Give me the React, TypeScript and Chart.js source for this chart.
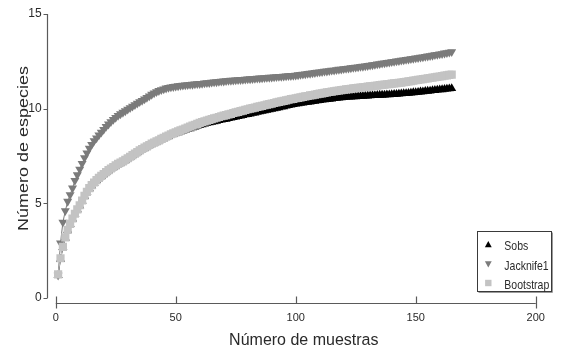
import React, { useEffect, useRef } from 'react';
import { Chart, registerables } from 'chart.js';

Chart.register(...registerables);

// ---------- data ----------
const SAMPLES = Array.from({ length: 165 }, (_, i) => i + 1);

const SOBS = [
  1.2, 2.05, 2.67, 3.17, 3.58, 3.9, 4.18, 4.43, 4.66, 4.88,
  5.13, 5.38, 5.58, 5.78, 5.94, 6.08, 6.21, 6.33, 6.43, 6.53,
  6.63, 6.73, 6.82, 6.9, 6.98, 7.06, 7.13, 7.2, 7.28, 7.36,
  7.44, 7.53, 7.61, 7.69, 7.78, 7.85, 7.92, 7.99, 8.06, 8.13,
  8.19, 8.24, 8.3, 8.36, 8.42, 8.48, 8.53, 8.6, 8.64, 8.69,
  8.73, 8.78, 8.82, 8.87, 8.91, 8.95, 9.0, 9.04, 9.09, 9.13,
  9.16, 9.19, 9.23, 9.26, 9.29, 9.32, 9.34, 9.38, 9.41, 9.43,
  9.45, 9.49, 9.51, 9.54, 9.57, 9.59, 9.62, 9.64, 9.68, 9.7,
  9.73, 9.76, 9.78, 9.81, 9.84, 9.87, 9.89, 9.92, 9.95, 9.98,
  10.0, 10.03, 10.06, 10.09, 10.11, 10.14, 10.17, 10.2, 10.22, 10.25,
  10.27, 10.29, 10.31, 10.33, 10.35, 10.36, 10.38, 10.4, 10.42, 10.44,
  10.46, 10.47, 10.49, 10.5, 10.52, 10.54, 10.55, 10.57, 10.58, 10.6,
  10.61, 10.62, 10.62, 10.63, 10.64, 10.65, 10.66, 10.66, 10.67, 10.68,
  10.69, 10.7, 10.7, 10.71, 10.72, 10.72, 10.73, 10.74, 10.74, 10.75,
  10.76, 10.77, 10.78, 10.79, 10.8, 10.81, 10.82, 10.83, 10.85, 10.86,
  10.87, 10.89, 10.9, 10.92, 10.93, 10.94, 10.96, 10.97, 10.99, 11.0,
  11.01, 11.03, 11.04, 11.06, 11.07,
];

const JACKNIFE1 = [
  1.2, 2.9, 4.0, 4.6, 5.1, 5.45, 5.8, 6.2, 6.5, 6.8,
  7.1, 7.4, 7.65, 7.9, 8.1, 8.3, 8.45, 8.6, 8.75, 8.9,
  9.05, 9.18, 9.3, 9.42, 9.53, 9.63, 9.72, 9.8, 9.88, 9.96,
  10.04, 10.12, 10.2, 10.28, 10.36, 10.43, 10.51, 10.59, 10.67, 10.75,
  10.82, 10.89, 10.95, 11.0, 11.04, 11.08, 11.11, 11.14, 11.16, 11.18,
  11.2, 11.22, 11.23, 11.25, 11.26, 11.27, 11.28, 11.3, 11.31, 11.32,
  11.33, 11.35, 11.36, 11.37, 11.39, 11.4, 11.41, 11.43, 11.44, 11.45,
  11.47, 11.48, 11.49, 11.5, 11.51, 11.52, 11.53, 11.54, 11.55, 11.56,
  11.57, 11.58, 11.59, 11.6, 11.61, 11.62, 11.63, 11.64, 11.65, 11.66,
  11.67, 11.68, 11.69, 11.7, 11.71, 11.72, 11.73, 11.74, 11.75, 11.76,
  11.78, 11.8, 11.81, 11.83, 11.85, 11.86, 11.88, 11.9, 11.92, 11.93,
  11.95, 11.97, 11.98, 12.0, 12.02, 12.03, 12.05, 12.07, 12.08, 12.1,
  12.12, 12.13, 12.15, 12.17, 12.18, 12.2, 12.22, 12.23, 12.25, 12.27,
  12.29, 12.31, 12.33, 12.35, 12.37, 12.39, 12.41, 12.43, 12.45, 12.47,
  12.49, 12.51, 12.53, 12.55, 12.57, 12.59, 12.61, 12.63, 12.65, 12.67,
  12.69, 12.71, 12.73, 12.75, 12.77, 12.79, 12.81, 12.84, 12.86, 12.88,
  12.9, 12.93, 12.95, 12.98, 13.0,
];

const BOOTSTRAP = [
  1.25, 2.1, 2.7, 3.2, 3.6, 3.92, 4.2, 4.45, 4.68, 4.9,
  5.15, 5.4, 5.6, 5.8, 5.96, 6.1, 6.23, 6.35, 6.45, 6.55,
  6.65, 6.75, 6.84, 6.92, 7.0, 7.08, 7.15, 7.22, 7.3, 7.38,
  7.46, 7.55, 7.63, 7.71, 7.8, 7.87, 7.94, 8.01, 8.08, 8.15,
  8.21, 8.27, 8.33, 8.4, 8.46, 8.52, 8.58, 8.65, 8.7, 8.75,
  8.8, 8.85, 8.9, 8.95, 9.0, 9.05, 9.1, 9.15, 9.2, 9.25,
  9.29, 9.33, 9.37, 9.41, 9.45, 9.49, 9.52, 9.56, 9.6, 9.63,
  9.66, 9.7, 9.73, 9.77, 9.8, 9.83, 9.87, 9.9, 9.94, 9.97,
  10.0, 10.03, 10.06, 10.09, 10.12, 10.15, 10.18, 10.21, 10.24, 10.27,
  10.3, 10.33, 10.36, 10.38, 10.41, 10.44, 10.47, 10.5, 10.52, 10.55,
  10.57, 10.6, 10.62, 10.65, 10.67, 10.7, 10.72, 10.74, 10.77, 10.79,
  10.81, 10.83, 10.86, 10.88, 10.9, 10.92, 10.94, 10.96, 10.98, 11.0,
  11.02, 11.03, 11.05, 11.07, 11.08, 11.1, 11.11, 11.13, 11.14, 11.16,
  11.18, 11.19, 11.21, 11.22, 11.24, 11.26, 11.27, 11.29, 11.3, 11.32,
  11.34, 11.35, 11.37, 11.38, 11.4, 11.42, 11.44, 11.46, 11.48, 11.5,
  11.52, 11.54, 11.56, 11.58, 11.6, 11.62, 11.64, 11.66, 11.68, 11.7,
  11.72, 11.74, 11.76, 11.78, 11.8,
];

const SERIES_LABELS = ['Sobs', 'Jacknife1', 'Bootstrap'];
const X_TICKS = [0, 50, 100, 150, 200];
const Y_TICKS = [0, 5, 10, 15];
const X_TITLE = 'Número de muestras';
const Y_TITLE = 'Número de especies';

// ---------- styles ----------
const FONT = "'Liberation Sans', Arial, Helvetica, sans-serif";
const NARROW = "'Liberation Sans Narrow', 'Liberation Sans', Arial, sans-serif";
const AXIS_COLOR = '#5a5a5a';
const TEXT_COLOR = '#2a2a2a';
const COLORS = ['#000000', '#7b7b7b', '#c3c3c3'];

function drawMarker(ctx: CanvasRenderingContext2D, style: string, rot: number, x: number, y: number, r: number, color: string) {
  ctx.save();
  ctx.fillStyle = color;
  ctx.translate(x, y);
  ctx.rotate((rot * Math.PI) / 180);
  ctx.beginPath();
  if (style === 'rect') {
    ctx.rect(-r, -r, 2 * r, 2 * r);
  } else {
    ctx.moveTo(0, -r);
    ctx.lineTo(r * 0.95, r * 0.75);
    ctx.lineTo(-r * 0.95, r * 0.75);
    ctx.closePath();
  }
  ctx.fill();
  ctx.restore();
}

const decorPlugin = {
  id: 'decor',
  beforeDatasetsDraw(chart: any) {
    const { ctx, chartArea, scales } = chart;
    const xs = scales.x;
    const ys = scales.y;
    ctx.save();
    ctx.strokeStyle = AXIS_COLOR;
    ctx.lineWidth = 1.2;
    ctx.beginPath();
    // y axis
    const ax = Math.round(chartArea.left) + 0.5;
    ctx.moveTo(ax, ys.getPixelForValue(Y_TICKS[Y_TICKS.length - 1]));
    ctx.lineTo(ax, ys.getPixelForValue(Y_TICKS[0]));
    Y_TICKS.forEach((v) => {
      const py = Math.round(ys.getPixelForValue(v)) + 0.5;
      ctx.moveTo(ax - 4, py);
      ctx.lineTo(ax, py);
    });
    // x axis
    const ay = Math.round(chartArea.bottom) + 0.5;
    const last = X_TICKS.length - 1;
    ctx.moveTo(xs.getPixelForValue(X_TICKS[0]), ay);
    ctx.lineTo(xs.getPixelForValue(X_TICKS[last]), ay);
    X_TICKS.forEach((v, i) => {
      const px = Math.round(xs.getPixelForValue(v)) + 0.5;
      const end = i === 0 || i === last;
      ctx.moveTo(px, ay - 7);
      ctx.lineTo(px, end ? ay + 5 : ay);
    });
    ctx.stroke();
    ctx.restore();
  },
  afterDraw(chart: any) {
    const { ctx } = chart;
    ctx.save();
    ctx.fillStyle = TEXT_COLOR;

    // x title
    ctx.save();
    ctx.font = `16px ${FONT}`;
    ctx.textAlign = 'center';
    ctx.textBaseline = 'alphabetic';
    ctx.translate(303.8, 345);
    ctx.scale(1, 1.07);
    ctx.fillText(X_TITLE, 0, 0);
    ctx.restore();

    // y title
    ctx.save();
    ctx.font = `14px ${FONT}`;
    ctx.textAlign = 'center';
    ctx.textBaseline = 'alphabetic';
    ctx.translate(28.3, 148.5);
    ctx.rotate(-Math.PI / 2);
    ctx.scale(1.285, 1);
    ctx.fillText(Y_TITLE, 0, 0);
    ctx.restore();

    // legend box
    const bx = 477.5, by = 231.5, bw = 74, bh = 60;
    ctx.fillStyle = '#ffffff';
    ctx.fillRect(bx, by, bw, bh);
    ctx.strokeStyle = '#3a3a3a';
    ctx.lineWidth = 1;
    ctx.strokeRect(bx, by, bw, bh);
    ctx.beginPath();
    ctx.moveTo(bx + bw + 1, by + 1);
    ctx.lineTo(bx + bw + 1, by + bh + 1);
    ctx.lineTo(bx + 1, by + bh + 1);
    ctx.strokeStyle = '#9a9a9a';
    ctx.stroke();

    const baselines = [250, 269.5, 288.5];
    chart.data.datasets.forEach((ds: any, i: number) => {
      const cy = baselines[i] - 5.5;
      drawMarker(ctx, ds.pointStyle, ds.pointRotation || 0, 488.3, cy, ds.pointStyle === 'rect' ? 3.2 : 3.6, ds.pointBackgroundColor);
      ctx.save();
      ctx.fillStyle = TEXT_COLOR;
      ctx.font = `10.5px ${FONT}`;
      ctx.textAlign = 'left';
      ctx.textBaseline = 'alphabetic';
      ctx.translate(504.3, baselines[i]);
      ctx.scale(1, 1.3);
      ctx.fillText(ds.label, 0, 0);
      ctx.restore();
    });
    ctx.restore();
  },
};

export default function App() {
  const canvasRef = useRef<HTMLCanvasElement | null>(null);

  useEffect(() => {
    if (!canvasRef.current) return;
    const series = [SOBS, JACKNIFE1, BOOTSTRAP];
    const styles = [
      { pointStyle: 'triangle', rotation: 0, radius: 5.2, order: 3 },
      { pointStyle: 'triangle', rotation: 180, radius: 5.2, order: 2 },
      { pointStyle: 'rect', rotation: 0, radius: 5.8, order: 1 },
    ];
    const datasets = series.map((vals, i) => ({
      label: SERIES_LABELS[i],
      data: SAMPLES.map((x, j) => ({ x, y: vals[j] })),
      showLine: true,
      borderColor: COLORS[i],
      borderWidth: 1,
      backgroundColor: COLORS[i],
      pointBackgroundColor: COLORS[i],
      pointBorderColor: COLORS[i],
      pointBorderWidth: 0,
      pointStyle: styles[i].pointStyle,
      pointRotation: styles[i].rotation,
      pointRadius: styles[i].radius,
      order: styles[i].order,
    }));

    const chart = new Chart(canvasRef.current, {
      type: 'scatter',
      data: { datasets },
      options: {
        responsive: false,
        animation: false,
        devicePixelRatio: 1,
        layout: { padding: { left: 0, top: 14, right: 35.3, bottom: 0 } },
        plugins: { legend: { display: false }, tooltip: { enabled: false } },
        scales: {
          x: {
            type: 'linear',
            min: -3.75,
            max: 200,
            grid: { display: false, drawTicks: false },
            border: { display: false },
            afterBuildTicks: (scale: any) => {
              scale.ticks = X_TICKS.map((v) => ({ value: v }));
            },
            afterFit: (scale: any) => {
              scale.height = 47;
            },
            ticks: {
              padding: 8,
              color: TEXT_COLOR,
              font: { family: FONT, size: 11 },
              maxRotation: 0,
              autoSkip: false,
            },
          },
          y: {
            type: 'linear',
            min: -0.264,
            max: 15,
            grid: { display: false, drawTicks: false },
            border: { display: false },
            afterBuildTicks: (scale: any) => {
              scale.ticks = Y_TICKS.map((v) => ({ value: v }));
            },
            afterFit: (scale: any) => {
              scale.width = 46.7;
            },
            ticks: {
              padding: 5,
              color: TEXT_COLOR,
              font: { family: NARROW, size: 12 },
              autoSkip: false,
            },
          },
        },
      },
      plugins: [decorPlugin],
    });
    return () => chart.destroy();
  }, []);

  return (
    <div style={{ position: 'fixed', left: 0, top: 0, width: 571, height: 350, background: '#ffffff' }}>
      <canvas ref={canvasRef} width={571} height={350} style={{ display: 'block' }} />
    </div>
  );
}
